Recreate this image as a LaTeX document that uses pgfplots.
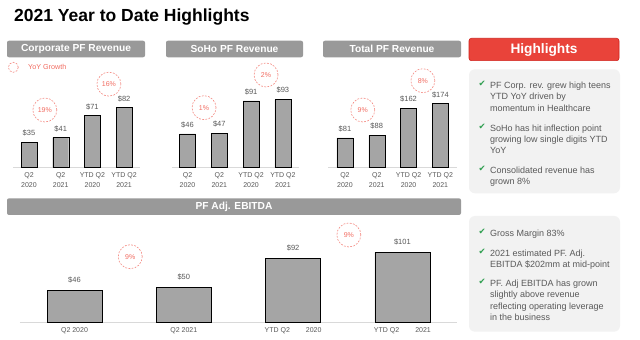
\documentclass[border=0pt]{standalone}
\usepackage{pgfplots}
\pgfplotsset{compat=1.18}
\usepackage{fontspec}
\setmainfont{Liberation Sans}
\newfontfamily\checkfont{DejaVu Sans}

\definecolor{hdrgray}{HTML}{999999}
\definecolor{bargray}{HTML}{A5A5A5}
\definecolor{barborder}{HTML}{D9D9D9}
\definecolor{axisgray}{HTML}{D9D9D9}
\definecolor{labcol}{HTML}{595959}
\definecolor{circred}{HTML}{F4877F}
\definecolor{circtext}{HTML}{F26D62}
\definecolor{hlred}{HTML}{E9433A}
\definecolor{hlborder}{HTML}{D0221C}
\definecolor{boxgray}{HTML}{F2F2F2}
\definecolor{checkgreen}{HTML}{2E9E4F}
\definecolor{bodytext}{HTML}{595959}

\tikzset{
  yoy/.style={draw=circred, dash pattern=on 1.8pt off 1.4pt, line width=0.6pt, circle,
    minimum size=24pt, inner sep=0pt, text=circtext, font=\fontsize{7}{8}\selectfont},
}
\pgfplotsset{
  slide/.style={
    scale only axis, anchor=south west, clip=false,
    axis y line=none, axis x line*=bottom,
    x axis line style={draw=axisgray, line width=0.8pt},
    ymin=0, xtick={0,1,2,3}, major tick length=0pt,
    /pgf/number format/assume math mode=true,
    xticklabel style={font=\fontsize{7}{9.5}\selectfont, text=labcol, align=center, inner sep=0pt, anchor=north, yshift=-5pt},
    ybar, bar width=16pt,
    cycle list={{fill=bargray, draw=barborder, line width=0.5pt}},
    nodes near coords={\$\pgfmathprintnumber{\pgfplotspointmeta}},
    nodes near coords style={font=\fontsize{7.5}{9}\selectfont, text=labcol, yshift=2.5pt},
  },
}

\newcommand{\hl}[2]{\node[anchor=base west, inner sep=0pt, font=\fontsize{9}{11}\selectfont, text=bodytext] at (490pt,#1pt) {#2};}
\newcommand{\chk}[1]{\node[anchor=base west, inner sep=0pt, font=\checkfont\fontsize{8.5}{10}\selectfont, text=checkgreen] at (478.5pt,#1pt) {✔};}

\begin{document}
\begin{tikzpicture}
\path[fill=white] (0pt,0pt) rectangle (640pt,340pt);

% Title
\node[anchor=base west, inner sep=0pt, font=\fontsize{17.5}{20}\selectfont\bfseries] at (14pt,318.3pt) {2021 Year to Date Highlights};

% Header bars
\fill[hdrgray, rounded corners=2pt] (7pt,282.7pt) rectangle (145pt,299.3pt);
\node[text=white, font=\fontsize{10.2}{12}\selectfont\bfseries] at (76pt,291pt) {Corporate PF Revenue};
\fill[hdrgray, rounded corners=2pt] (166pt,282.7pt) rectangle (303pt,299.3pt);
\node[text=white, font=\fontsize{10.2}{12}\selectfont\bfseries] at (234.5pt,291pt) {SoHo PF Revenue};
\fill[hdrgray, rounded corners=2pt] (323pt,282.7pt) rectangle (461pt,299.3pt);
\node[text=white, font=\fontsize{10.2}{12}\selectfont\bfseries] at (392pt,291pt) {Total PF Revenue};
\fill[hdrgray, rounded corners=2pt] (7pt,125pt) rectangle (461pt,141.7pt);
\node[text=white, font=\fontsize{10.2}{12}\selectfont\bfseries] at (234pt,133.3pt) {PF Adj. EBITDA};

% Legend
\node[yoy, minimum size=10pt] at (13.3pt,272.7pt) {};
\node[anchor=west, inner sep=0pt, text=circtext, font=\fontsize{7.2}{8}\selectfont] at (28pt,272.7pt) {YoY Growth};

% Highlights panel
\filldraw[fill=hlred, draw=hlborder, line width=0.6pt, rounded corners=2.5pt] (469pt,279.3pt) rectangle (619pt,301.7pt);
\node[text=white, font=\fontsize{13.7}{16}\selectfont\bfseries] at (544pt,290.5pt) {Highlights};
\fill[boxgray, rounded corners=6pt] (469pt,146.7pt) rectangle (620pt,270.7pt);
\fill[boxgray, rounded corners=6pt] (469pt,8.3pt) rectangle (620pt,124pt);

\chk{253.7}
\hl{251.7}{PF Corp. rev. grew high teens}
\hl{240}{YTD YoY driven by}
\hl{228.3}{momentum in Healthcare}
\chk{210.4}
\hl{208.4}{SoHo has hit inflection point}
\hl{197.4}{growing low single digits YTD}
\hl{186.7}{YoY}
\chk{168}
\hl{166}{Consolidated revenue has}
\hl{155}{grown 8\%}

\chk{105.4}
\hl{103.4}{Gross Margin 83\%}
\chk{85.4}
\hl{83.4}{2021 estimated PF. Adj.}
\hl{72.7}{EBITDA \$202mm at mid-point}
\chk{55.4}
\hl{53.4}{PF. Adj EBITDA has grown}
\hl{42}{slightly above revenue}
\hl{30.7}{reflecting operating leverage}
\hl{19.4}{in the business}

% Corporate PF Revenue
\begin{axis}[slide, at={(13.15pt,172.3pt)}, x=31.7pt, y=0.733pt, xmin=-0.5, xmax=3.5, ymax=120,
  xticklabels={{Q2\\2020},{Q2\\2021},{YTD Q2\\2020},{YTD Q2\\2021}}]
\addplot coordinates {(0,35) (1,41) (2,71) (3,82)};
\node[yoy] at (axis cs:0.5,78.7) {19\%};
\node[yoy] at (axis cs:2.52,114) {16\%};
\end{axis}

% SoHo PF Revenue
\begin{axis}[slide, at={(171.6pt,172.3pt)}, x=31.8pt, y=0.733pt, xmin=-0.5, xmax=3.5, ymax=120,
  xticklabels={{Q2\\2020},{Q2\\2021},{YTD Q2\\2020},{YTD Q2\\2021}}]
\addplot coordinates {(0,46) (1,47) (2,91) (3,93)};
\node[yoy] at (axis cs:0.52,81.9) {1\%};
\node[yoy] at (axis cs:2.47,126.5) {2\%};
\end{axis}

% Total PF Revenue
\begin{axis}[slide, at={(328.1pt,172.3pt)}, x=31.8pt, y=0.368pt, xmin=-0.53, xmax=3.52, ymax=240,
  xticklabels={{Q2\\2020},{Q2\\2021},{YTD Q2\\2020},{YTD Q2\\2021}}]
\addplot coordinates {(0,81) (1,88) (2,162) (3,174)};
\node[yoy] at (axis cs:0.56,156.8) {9\%};
\node[yoy] at (axis cs:2.45,236.4) {8\%};
\end{axis}

% PF Adj. EBITDA
\begin{axis}[slide, at={(19.85pt,17.7pt)}, x=109.3pt, y=0.692pt, xmin=-0.5, xmax=3.5, ymax=140,
  bar width=55pt,
  nodes near coords style={yshift=1.5pt},
  xticklabels={{Q2 2020},{Q2 2021},{YTD Q2\hspace{16pt}2020},{YTD Q2\hspace{16pt}2021}}]
\addplot coordinates {(0,46) (1,50) (2,92) (3,101)};
\node[yoy] at (axis cs:0.51,94.8) {9\%};
\node[yoy] at (axis cs:2.51,126.2) {9\%};
\end{axis}
\end{tikzpicture}
\end{document}
